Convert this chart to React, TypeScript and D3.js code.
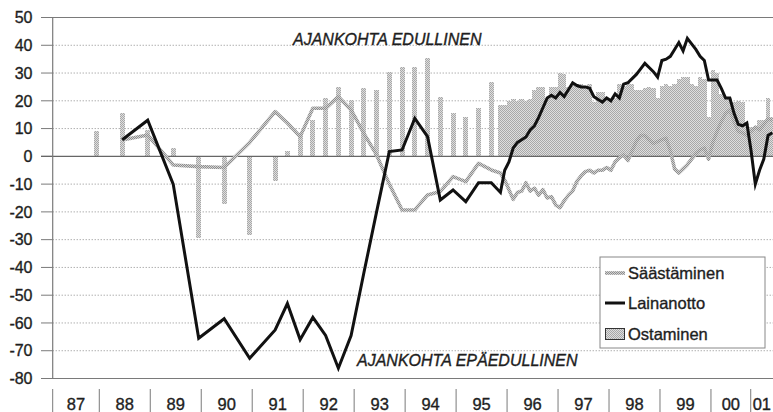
import React from "react";
import * as d3 from "d3";

const W = 773;
const H = 412;

// ---- axis categories / ticks ----
const yearLabels = ["87", "88", "89", "90", "91", "92", "93", "94", "95", "96", "97", "98", "99", "00", "01"];
// start of each year segment on the time axis (decimal years)
const yearStarts = [1987.086, 1988, 1989, 1990, 1991, 1992, 1993, 1994, 1995, 1996, 1997, 1998, 1999, 2000, 2000.78];
const axisStart = 1987.086;
const axisEnd = 2001.217;
const yTicks = [50, 40, 30, 20, 10, 0, -10, -20, -30, -40, -50, -60, -70, -80];

// ---- survey dates (decimal years) ----
const semiAnnualDates = [1987.95, 1988.45, 1988.95, 1989.45, 1989.95, 1990.45, 1990.95, 1991.45];
const quarterlyDates = [
  1991.69, 1991.94, 1992.19, 1992.44, 1992.69, 1992.94, 1993.19, 1993.44, 1993.69,
  1993.94, 1994.19, 1994.44, 1994.69, 1994.94, 1995.19, 1995.44, 1995.69,
];
const monthlyStart = 1995.87;
const monthlyCount = 65;
const monthlyDates = d3.range(monthlyCount).map((k) => monthlyStart + k / 12);

// ---- series ----
const ostaminen = [
  // semi-annual
  9, 15.5, 9.5, 3, -29.5, -17, -28.3, -9,
  // quarterly
  2, 8, 13, 21, 25, 20.3, 24.5, 24, 30.5, 32.3, 32.3, 35.3, 21.5, 15.5, 14.3, 17.3, 26.9,
  // monthly
  18.5, 18.5, 20, 20.5, 20, 20.5, 20, 20.5, 24, 25,
  25, 21, 25, 25, 30, 29.5, 25, 26, 26, 26,
  25.5, 26, 19.5, 23, 23, 20.5, 20, 21, 26, 25.5,
  26.5, 26, 24, 24, 24.5, 25, 24.5, 21, 25.5, 26,
  25.5, 26, 28, 28.5, 28.5, 26, 25.5, 28.5, 28, 14,
  31, 30, 22.5, 21.5, 21, 19.5, 20, 19.5, 12, 10.5,
  10.5, 13, 13, 21, 14,
];

const lainanotto: (number | null)[] = [
  null, 6, 13, -10, -65.5, -58.5, -72.7, -62.5,
  -53, -66, -58, -64.5, -76.3, -64.5, -42, -20, 1.7, 2.3, 13.7, 7.1, -15.7, -12.1, -16.3, -9.5, -9.5,
  -13, -5, -2, 3, 5, 6, 7, 9.5, 11, 14,
  17.5, 21, 22, 21, 23, 21.5, 24, 26.5, 25.5, 25,
  25, 24.5, 21.5, 20.5, 19.5, 21, 20, 22.5, 21, 26,
  26.5, 28, 29.5, 31.5, 33.5, 32, 30.5, 28.5, 34.5, 35,
  36, 38.5, 41, 38, 42.5, 40.5, 38.5, 36, 34.5, 27.5,
  27.5, 27.5, 24.5, 21, 21, 15.5, 11.5, 11, 12, 2,
  -10, -5, -1, 7.5, 8.5,
];

const saastaminen: (number | null)[] = [
  null, 5.9, 7.7, -3.1, -3.7, -4, 5, 16.1,
  12, 7.1, 17.3, 17.3, 21.5, 16.7, 8.3, 0.5, -10, -19.3, -19.3, -13.9, -12.7, -7.3, -9.1, -2.5, -4.9,
  -6, -8.5, -12, -15.5, -13, -12.5, -9.5, -12.5, -11.5, -14,
  -12, -15, -14.5, -17.5, -18.5, -16, -14, -12.5, -9, -7,
  -5.5, -5, -6, -5, -5, -4, -5, -2, -0.5, 0.5,
  -1.5, 2, 5.5, 7.5, 7.5, 6, 4.7, 5.3, 6, 6.5,
  2, -4.5, -6, -4.5, -3, -1, 1, 2.3, 3, -1,
  5, 9, 12.5, 15.5, 16.7, 12.5, 9, 8.5, 7.5, 9,
  10.5, 9.5, 11.5, 13.5, 13,
];

const legendItems = ["Säästäminen", "Lainanotto", "Ostaminen"];
const annotationTop = "AJANKOHTA EDULLINEN";
const annotationBottom = "AJANKOHTA EPÄEDULLINEN";

const FONT = "'Liberation Sans', Arial, sans-serif";
const TEXT_COLOR = "#1e1e1e";

export default function App() {
  const dates = [...semiAnnualDates, ...quarterlyDates, ...monthlyDates];
  const earlyCount = semiAnnualDates.length + quarterlyDates.length;

  const x = d3.scaleLinear().domain([axisStart, axisEnd]).range([52.7, 773]);
  const y = d3.scaleLinear().domain([-80, 50]).range([378.5, 17.5]);

  const monthStep = x(monthlyStart + 1 / 12) - x(monthlyStart);

  const lineGen = d3
    .line<[number, number | null]>()
    .defined((d) => d[1] !== null)
    .x((d) => x(d[0]))
    .y((d) => y(d[1] as number));

  const lainaPts = dates.map((t, i) => [t, lainanotto[i]] as [number, number | null]);
  const saastoPts = dates.map((t, i) => [t, saastaminen[i]] as [number, number | null]);

  const xLeft = x.range()[0];
  const xRight = x.range()[1];

  const textProps = { fill: TEXT_COLOR, stroke: TEXT_COLOR, strokeWidth: 0.35 };

  return (
    <svg
      width={W}
      height={H}
      style={{ position: "absolute", left: 0, top: 0, background: "#fff" }}
      fontFamily={FONT}
    >
      <defs>
        <pattern id="halftone" width="2" height="2" patternUnits="userSpaceOnUse">
          <rect width="2" height="2" fill="#dedede" />
          <rect x="0" y="0" width="1" height="1" fill="#a8a8a8" />
          <rect x="1" y="1" width="1" height="1" fill="#a8a8a8" />
        </pattern>
        <pattern id="halftoneLine" width="2" height="2" patternUnits="userSpaceOnUse">
          <rect width="2" height="2" fill="#d2d2d2" />
          <rect x="0" y="0" width="1" height="1" fill="#8e8e8e" />
          <rect x="1" y="1" width="1" height="1" fill="#8e8e8e" />
        </pattern>
      </defs>

      {/* grid lines */}
      {yTicks.map((v) => {
        const solid = v === 50 || v === 0 || v === -80;
        return (
          <g key={v}>
            <line x1={41} x2={xLeft} y1={y(v)} y2={y(v)} stroke="#7a7a7a" strokeWidth={1} />
            {!solid && (
              <line
                x1={xLeft}
                x2={xRight}
                y1={y(v)}
                y2={y(v)}
                stroke="#8c8c8c"
                strokeWidth={1}
                strokeDasharray="1 2"
              />
            )}
          </g>
        );
      })}

      {/* bars: Ostaminen */}
      <g shapeRendering="crispEdges">
        {dates.map((t, i) => {
          const v = ostaminen[i];
          const w = i < earlyCount ? 5 : monthStep + 0.4;
          const y0 = y(0);
          const y1 = y(v);
          return (
            <rect
              key={"b" + i}
              x={x(t) - w / 2}
              y={Math.min(y0, y1)}
              width={w}
              height={Math.abs(y1 - y0)}
              fill="url(#halftone)"
            />
          );
        })}
      </g>

      {/* solid lines: top, zero, bottom */}
      {[50, 0, -80].map((v) => (
        <line key={"s" + v} x1={41} x2={xRight} y1={y(v)} y2={y(v)} stroke={v === 0 ? "#666" : "#7a7a7a"} strokeWidth={1.2} />
      ))}
      {/* y axis */}
      <line x1={xLeft} x2={xLeft} y1={y(50)} y2={y(-80)} stroke="#7a7a7a" strokeWidth={1.2} />

      {/* y tick labels */}
      {yTicks.map((v) => (
        <text key={"yl" + v} x={32.5} y={y(v)} dy="0.36em" textAnchor="end" fontSize={16} {...textProps}>
          {v}
        </text>
      ))}

      {/* x axis separators and labels */}
      {yearStarts.map((s, i) => {
        const e = i + 1 < yearStarts.length ? yearStarts[i + 1] : axisEnd;
        return (
          <g key={"yr" + i}>
            <line x1={x(s)} x2={x(s)} y1={389} y2={H} stroke="#7a7a7a" strokeWidth={1} />
            <text x={(x(s) + x(e)) / 2} y={409.5} textAnchor="middle" fontSize={16.5} {...textProps}>
              {yearLabels[i]}
            </text>
          </g>
        );
      })}

      {/* Säästäminen line */}
      <path d={lineGen(saastoPts) || ""} fill="none" stroke="url(#halftoneLine)" strokeWidth={3.6} strokeLinejoin="round" />
      {/* Lainanotto line */}
      <path d={lineGen(lainaPts) || ""} fill="none" stroke="#111" strokeWidth={3} strokeLinejoin="miter" strokeMiterlimit={6} />

      {/* annotations */}
      <text x={293} y={y(40)} fontSize={16} fontStyle="italic" {...textProps}>
        {annotationTop}
      </text>
      <text x={357} y={366} fontSize={16} fontStyle="italic" {...textProps}>
        {annotationBottom}
      </text>

      {/* legend */}
      <g>
        <rect x={600} y={257} width={165} height={91} fill="#fff" stroke="#888" strokeWidth={1} />
        <line x1={605} x2={625} y1={273} y2={273} stroke="url(#halftoneLine)" strokeWidth={3.6} />
        <text x={628} y={273} dy="0.36em" fontSize={16.5} {...textProps}>{legendItems[0]}</text>
        <line x1={605} x2={625} y1={303} y2={303} stroke="#111" strokeWidth={3} />
        <text x={628} y={303} dy="0.36em" fontSize={16.5} {...textProps}>{legendItems[1]}</text>
        <rect x={605.5} y={328.5} width={19} height={11} fill="url(#halftone)" stroke="#333" strokeWidth={1} />
        <text x={628} y={334} dy="0.36em" fontSize={16.5} {...textProps}>{legendItems[2]}</text>
      </g>
    </svg>
  );
}
